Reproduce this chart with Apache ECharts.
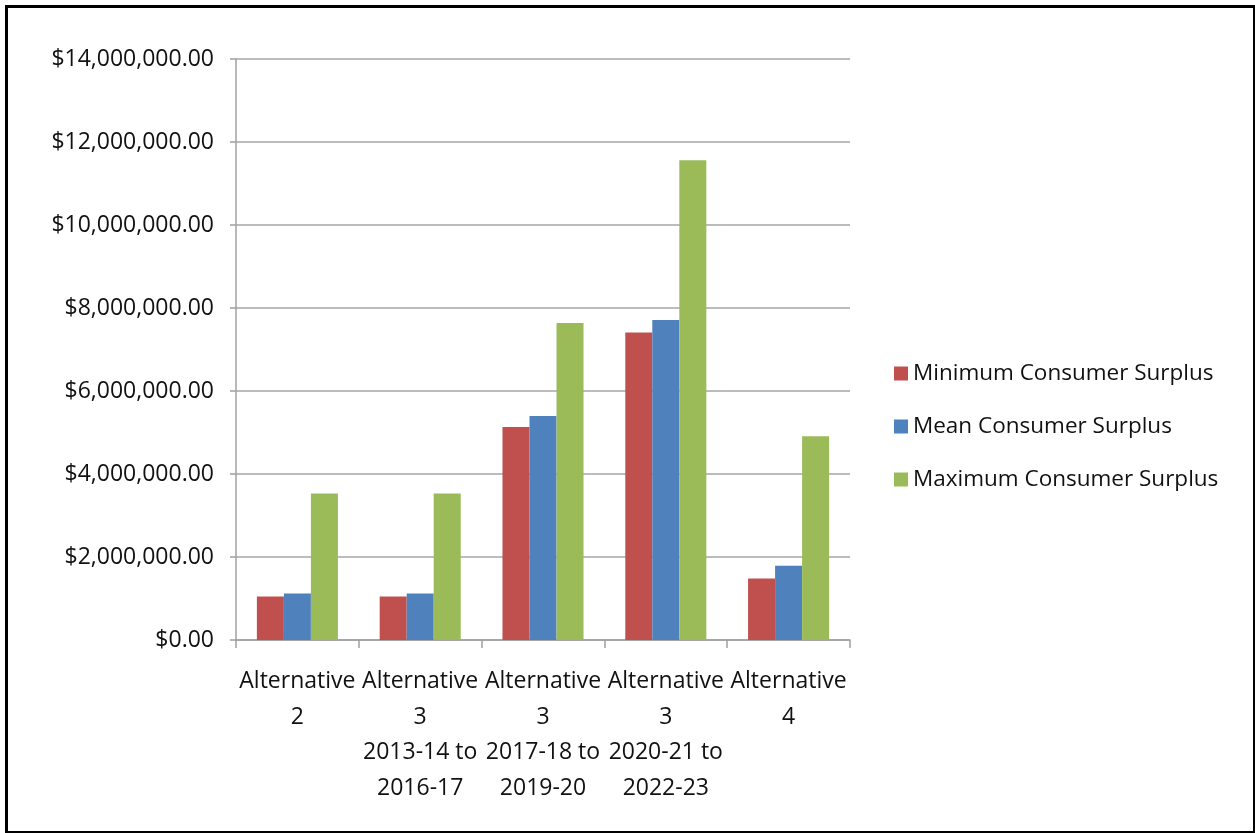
<!DOCTYPE html>
<html>
<head>
<meta charset="utf-8">
<script src="https://cdn.jsdelivr.net/npm/echarts@6/dist/echarts.min.js"></script>
<style>
  html, body { margin: 0; padding: 0; background: #fff; }
  #frame {
    position: absolute; left: 5px; top: 5px;
    width: 1245px; height: 823px;
    border-style: solid; border-color: #000;
    border-width: 3px 2px 2px 3px;
  }
  #chart { position: absolute; left: 0; top: 0; width: 1255px; height: 833px; }
</style>
</head>
<body>
<div id="frame"></div>
<div id="chart"></div>
<script>
var categories = [
  'Alternative\n2',
  'Alternative\n3\n2013-14 to\n2016-17',
  'Alternative\n3\n2017-18 to\n2019-20',
  'Alternative\n3\n2020-21 to\n2022-23',
  'Alternative\n4'
];
var minSurplus = [1050000, 1050000, 5130000, 7410000, 1480000];
var meanSurplus = [1120000, 1120000, 5400000, 7710000, 1790000];
var maxSurplus = [3530000, 3530000, 7640000, 11560000, 4910000];
var seriesNames = ['Minimum Consumer Surplus', 'Mean Consumer Surplus', 'Maximum Consumer Surplus'];

var font = '"Open Sans", sans-serif';
var chart = echarts.init(document.getElementById('chart'));

function money (v) {
  return '$' + v.toLocaleString('en-US', { minimumFractionDigits: 2, maximumFractionDigits: 2 });
}

var option = {
  animation: false,
  color: ['#c0504d', '#4f81bd', '#9bbb59'],
  textStyle: { fontFamily: font },
  grid: { left: 236, top: 59, width: 614, height: 581 },
  legend: {
    orient: 'vertical',
    left: 889,
    top: 357,
    icon: 'rect',
    itemWidth: 14,
    itemHeight: 14,
    itemGap: 30,
    textStyle: { fontFamily: font, fontSize: 22.5, color: '#111' },
    data: seriesNames
  },
  xAxis: {
    type: 'category',
    data: categories,
    axisLine: { lineStyle: { color: '#a0a0a0', width: 1.5 } },
    axisTick: { show: true, length: 8, lineStyle: { color: '#a0a0a0', width: 1.5 } },
    axisLabel: {
      interval: 0,
      margin: 24,
      fontFamily: font,
      fontSize: 23,
      lineHeight: 35.5,
      color: '#111'
    }
  },
  yAxis: {
    type: 'value',
    min: 0,
    max: 14000000,
    interval: 2000000,
    axisLine: { show: true, lineStyle: { color: '#a0a0a0', width: 1.5 } },
    axisTick: { show: true, length: 6, lineStyle: { color: '#a0a0a0', width: 1.5 } },
    splitLine: { lineStyle: { color: '#a6a6a6', width: 1.5 } },
    axisLabel: {
      margin: 22,
      fontFamily: font,
      fontSize: 23,
      color: '#111',
      formatter: money
    }
  },
  series: [
    { name: seriesNames[0], type: 'bar', data: minSurplus, barGap: '0%', barCategoryGap: '34%' },
    { name: seriesNames[1], type: 'bar', data: meanSurplus, barGap: '0%', barCategoryGap: '34%' },
    { name: seriesNames[2], type: 'bar', data: maxSurplus, barGap: '0%', barCategoryGap: '34%' }
  ]
};

chart.setOption(option);
window.addEventListener('resize', function () {
  chart.resize();
});
</script>
</body>
</html>
